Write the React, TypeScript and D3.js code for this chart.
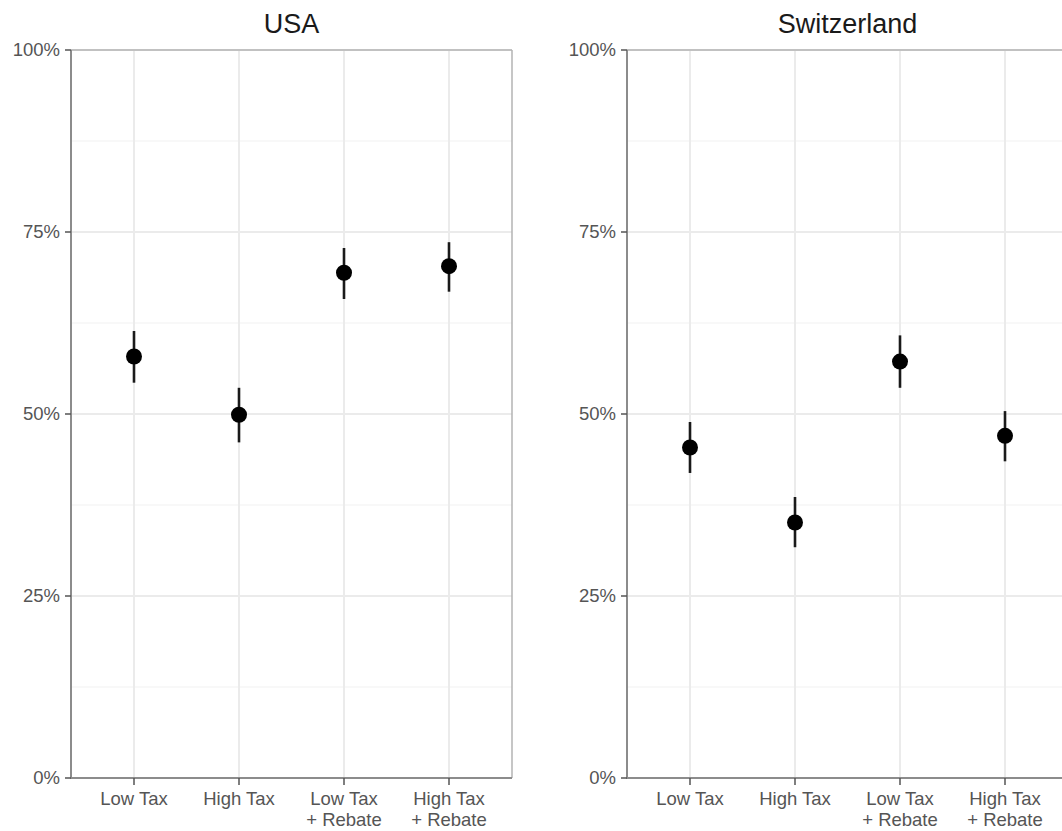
import React from "react";
import * as d3 from "d3";

const categories = ["Low Tax", "High Tax", "Low Tax\n+ Rebate", "High Tax\n+ Rebate"];
const panels = ["USA", "Switzerland"];
const usaMean = [0.579, 0.499, 0.694, 0.703];
const usaLow = [0.543, 0.461, 0.658, 0.668];
const usaHigh = [0.614, 0.536, 0.728, 0.736];
const chMean = [0.454, 0.351, 0.572, 0.470];
const chLow = [0.419, 0.317, 0.536, 0.435];
const chHigh = [0.489, 0.386, 0.608, 0.504];
const yTicks = [0, 0.25, 0.5, 0.75, 1];
const yMinor = [0.125, 0.375, 0.625, 0.875];

const W = 1062;
const H = 831;
const panelLeft = [71, 627];
const panelWidth = 441;
const top = 50;
const bottom = 778;

function Panel({ title, x0, mean, lo, hi }: { title: string; x0: number; mean: number[]; lo: number[]; hi: number[] }) {
  const x = d3.scalePoint<string>().domain(categories).range([x0, x0 + panelWidth]).padding(0.6);
  const y = d3.scaleLinear().domain([0, 1]).range([bottom, top]);
  const fmt = d3.format(".0%");
  const x1 = x0 + panelWidth;
  return (
    <g>
      <rect x={x0} y={top} width={panelWidth} height={bottom - top} fill="#ffffff" />
      {yMinor.map((t) => (
        <line key={"m" + t} x1={x0} x2={x1} y1={y(t)} y2={y(t)} stroke="#f2f2f2" strokeWidth={1.2} />
      ))}
      {yTicks.map((t) => (
        <line key={"g" + t} x1={x0} x2={x1} y1={y(t)} y2={y(t)} stroke="#ebebeb" strokeWidth={2} />
      ))}
      {categories.map((c) => (
        <line key={"v" + c} x1={x(c)} x2={x(c)} y1={top} y2={bottom} stroke="#ebebeb" strokeWidth={2} />
      ))}
      {/* border top/right */}
      <line x1={x0} x2={x1} y1={top} y2={top} stroke="#b3b3b3" strokeWidth={1.5} />
      <line x1={x1} x2={x1} y1={top} y2={bottom} stroke="#b3b3b3" strokeWidth={1.5} />
      {/* axis lines */}
      <line x1={x0} x2={x0} y1={top} y2={bottom + 1} stroke="#8c8c8c" strokeWidth={2} />
      <line x1={x0} x2={x1} y1={bottom} y2={bottom} stroke="#8c8c8c" strokeWidth={2} />
      {yTicks.map((t) => (
        <g key={"yt" + t}>
          <line x1={x0 - 6} x2={x0} y1={y(t)} y2={y(t)} stroke="#555" strokeWidth={1.5} />
          <text x={x0 - 11} y={y(t)} dy="0.35em" textAnchor="end" fontSize={18.5} fill="#555"
            fontFamily="'Liberation Sans', Arial, sans-serif">{fmt(t)}</text>
        </g>
      ))}
      {categories.map((c) => {
        const lines = c.split("\n");
        return (
          <g key={"xt" + c}>
            <line x1={x(c)} x2={x(c)} y1={bottom} y2={bottom + 7} stroke="#555" strokeWidth={1.5} />
            <text x={x(c)} y={bottom + 27} textAnchor="middle" fontSize={18.5} fill="#555"
              fontFamily="'Liberation Sans', Arial, sans-serif">
              {lines.map((l, i) => (
                <tspan key={i} x={x(c)} dy={i === 0 ? 0 : 20.5}>{l}</tspan>
              ))}
            </text>
          </g>
        );
      })}
      {categories.map((c, i) => (
        <g key={"p" + c}>
          <line x1={x(c)} x2={x(c)} y1={y(lo[i])} y2={y(hi[i])} stroke="#1a1a1a" strokeWidth={2.6} />
          <circle cx={x(c)} cy={y(mean[i])} r={8} fill="#000" />
        </g>
      ))}
      <text x={x0 + panelWidth / 2} y={33} textAnchor="middle" fontSize={27} fill="#1a1a1a"
        fontFamily="'Liberation Sans', Arial, sans-serif">{title}</text>
    </g>
  );
}

export default function App() {
  return (
    <div style={{ position: "absolute", left: 0, top: 0, width: W, height: H, overflow: "hidden" }}>
      <svg width={W} height={H} style={{ display: "block", background: "#fff" }}>
        <rect x={0} y={0} width={W} height={H} fill="#fff" />
        <Panel title={panels[0]} x0={panelLeft[0]} mean={usaMean} lo={usaLow} hi={usaHigh} />
        <Panel title={panels[1]} x0={panelLeft[1]} mean={chMean} lo={chLow} hi={chHigh} />
      </svg>
    </div>
  );
}
